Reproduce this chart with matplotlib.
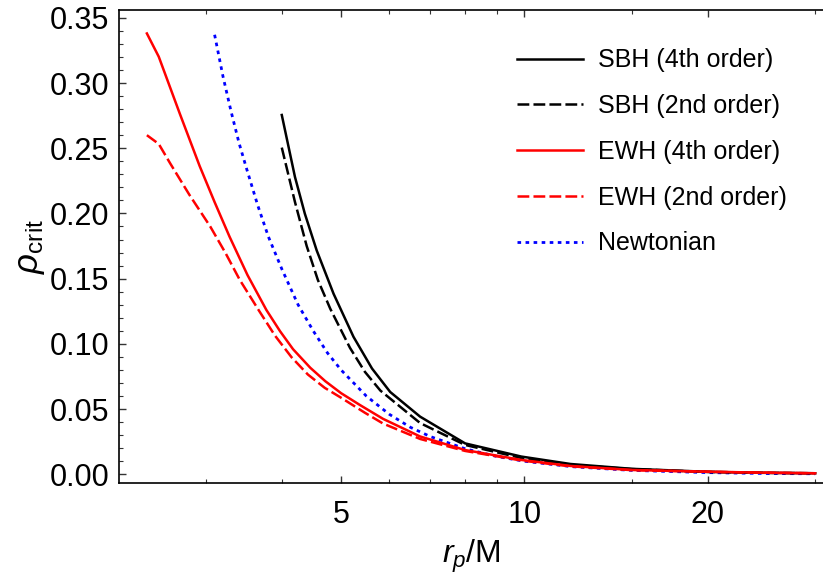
import numpy as np
import matplotlib
matplotlib.use("Agg")
import matplotlib.pyplot as plt
from matplotlib.ticker import FixedLocator, FixedFormatter, NullFormatter, MultipleLocator

plt.rcParams["font.family"] = ["Liberation Sans", "DejaVu Sans"]
plt.rcParams["mathtext.fontset"] = "custom"
plt.rcParams["mathtext.rm"] = "Liberation Sans"
plt.rcParams["mathtext.it"] = "Liberation Sans:italic"
plt.rcParams["lines.scale_dashes"] = False

# ── data ─────────────────────────────────────────────────────────────────────
r_sbh4 = [3.996, 4.20, 4.36, 4.56, 4.86, 5.24, 5.62, 6.02, 6.74, 7.99, 9.88,
          11.9, 15.0, 20.0, 25.0, 30.0]
rho_sbh4 = [0.2755, 0.228, 0.1998, 0.1716, 0.1384, 0.1054, 0.0811, 0.0631,
            0.0442, 0.0237, 0.0136, 0.0079, 0.0042, 0.0019, 0.0011, 0.0008]

r_sbh2 = [3.996, 4.20, 4.39, 4.58, 4.80, 5.17, 5.47, 5.80, 6.74, 7.99, 9.88,
          11.9, 15.0, 20.0, 25.0, 30.0]
rho_sbh2 = [0.2505, 0.2088, 0.1751, 0.149, 0.1269, 0.097, 0.0786, 0.0642,
            0.0393, 0.0225, 0.0125, 0.0072, 0.0040, 0.0018, 0.0011, 0.0008]

r_ewh4 = [2.40, 2.51, 2.72, 2.93, 3.10, 3.28, 3.51, 3.77, 3.97, 4.17, 4.45,
          4.71, 5.00, 5.37, 5.86, 6.74, 7.99, 9.88, 11.9, 15.0, 20.0, 25.0,
          30.0]
rho_ewh4 = [0.338, 0.3202, 0.2761, 0.2363, 0.2087, 0.1822, 0.1528, 0.1260,
            0.1097, 0.0959, 0.0817, 0.0714, 0.0622, 0.0531, 0.0425, 0.0290,
            0.0186, 0.0110, 0.0064, 0.0033, 0.0020, 0.0012, 0.0008]

r_ewh2 = [2.40, 2.51, 2.62, 2.82, 3.05, 3.23, 3.41, 3.66, 3.895, 4.147, 4.41,
          4.70, 5.00, 5.47, 5.86, 6.74, 7.99, 9.88, 11.9, 15.0, 20.0, 25.0,
          30.0]
rho_ewh2 = [0.2600, 0.2533, 0.2385, 0.2141, 0.1899, 0.1697, 0.1490, 0.1260,
            0.1063, 0.0897, 0.0765, 0.0663, 0.0587, 0.0472, 0.0389, 0.0271,
            0.0179, 0.0106, 0.0061, 0.0032, 0.0019, 0.0012, 0.0008]

r_newt = [3.1, 3.2, 3.3, 3.4, 3.5, 3.65, 3.8, 4.0, 4.25, 4.5, 4.75, 5.0, 5.5,
          6.0, 6.5, 7.0, 8.0, 9.0, 10.0, 12.0, 15.0, 20.0, 25.0, 30.0]
rho_newt = [0.337, 0.305, 0.278, 0.254, 0.234, 0.206, 0.182, 0.157, 0.130,
            0.110, 0.093, 0.080, 0.060, 0.046, 0.036, 0.029, 0.0195, 0.0137,
            0.0100, 0.0058, 0.0030, 0.0013, 0.0006, 0.0004]

labels = ["SBH (4th order)", "SBH (2nd order)", "EWH (4th order)",
          "EWH (2nd order)", "Newtonian"]
x_major = [5, 10, 20]
x_major_labels = ["5", "10", "20"]
x_minor = [3, 4, 6, 7, 8, 9, 15, 30]

# ── figure ───────────────────────────────────────────────────────────────────
fig = plt.figure(figsize=(8.23, 5.77), dpi=100)
ax = fig.add_axes([0.1446, 0.1624, 0.8554, 0.8203])

lw = 1.8
dash = (8.5, 3.0)
h1, = ax.plot(r_sbh4, rho_sbh4, color="black", lw=lw, zorder=3)
h2, = ax.plot(r_sbh2, rho_sbh2, color="black", lw=lw, dashes=dash, zorder=3)
h3, = ax.plot(r_ewh4, rho_ewh4, color="red", lw=lw, zorder=4)
h4, = ax.plot(r_ewh2, rho_ewh2, color="red", lw=lw, dashes=dash, zorder=4)
h5, = ax.plot(r_newt, rho_newt, color="blue", lw=2.0, dashes=(2.6, 3.2), zorder=2)

ax.set_xscale("log")
ax.set_xlim(2.16, 30.9)
ax.set_ylim(-0.0069, 0.356)

ax.xaxis.set_major_locator(FixedLocator(x_major))
ax.xaxis.set_major_formatter(FixedFormatter(x_major_labels))
ax.xaxis.set_minor_locator(FixedLocator(x_minor))
ax.xaxis.set_minor_formatter(NullFormatter())
ax.yaxis.set_major_locator(MultipleLocator(0.05))
ax.yaxis.set_minor_locator(MultipleLocator(0.01))
ax.yaxis.set_major_formatter(lambda v, p: f"{v:.2f}")

ax.tick_params(which="both", direction="in", top=True, right=False,
               color="#333333", labelsize=22)
ax.tick_params(which="major", length=5, width=1.0)
ax.tick_params(which="minor", length=3, width=0.8)
ax.tick_params(axis="y", pad=7)
ax.tick_params(axis="x", pad=12)

for s in ["left", "bottom", "top"]:
    ax.spines[s].set_linewidth(1.2)
ax.spines["right"].set_visible(False)

ax.set_xlabel(r"$r_p/\mathrm{M}$", fontsize=23, labelpad=6)
ax.set_ylabel(r"$\rho_{\mathrm{crit}}$", fontsize=25, labelpad=2)

ax.legend([h1, h2, h3, h4, h5], labels, loc="upper left",
          bbox_to_anchor=(0.565, 0.919), frameon=False, fontsize=18,
          handlelength=2.64, handletextpad=0.6, labelspacing=0.87,
          borderpad=0, borderaxespad=0)

fig.savefig("out.png", dpi=100)
